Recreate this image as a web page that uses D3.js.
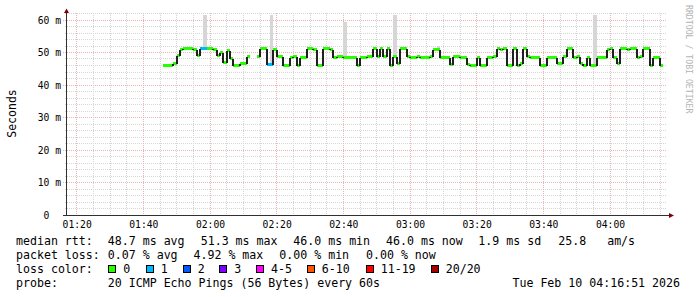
<!DOCTYPE html>
<html><head><meta charset="utf-8">
<script src="https://cdn.jsdelivr.net/npm/d3@7/dist/d3.min.js"></script>
<style>
html,body{margin:0;padding:0;background:#fff;}
svg text{font-family:"DejaVu Sans Mono","Liberation Mono",monospace;white-space:pre;}
</style></head><body>
<svg id="chart" width="697" height="297"></svg>
<script>
// ---------------- data ----------------
const windowStart = "2026-02-10 01:16:51";
const windowEnd   = "2026-02-10 04:16:51";
const seriesStart = "2026-02-10 01:46:00";
const stepSeconds = 60;

// median RTT per minute (ms), null = no data
const medianRtt = [
  45.9,45.9,45.9,46.5,49.0,50.8,51.1,51.1,51.1,50.8,
  49.0,51.1,51.1,51.1,51.1,50.8,49.0,50.0,47.0,50.6,
  48.0,45.9,45.9,46.5,46.5,48.7,null,null,48.7,51.1,
  51.1,46.3,46.3,50.8,48.7,48.7,45.9,45.9,48.4,48.7,
  45.9,48.4,48.4,51.1,51.1,50.8,45.9,45.9,51.1,51.1,
  50.8,48.4,48.7,48.7,48.4,48.4,48.4,48.4,45.9,48.4,
  48.4,48.7,48.7,51.1,48.7,51.1,48.7,51.1,45.9,48.7,
  46.5,51.1,51.1,48.7,48.4,48.4,48.7,48.4,48.4,48.4,
  48.7,50.8,50.8,48.4,48.4,48.4,46.3,48.7,48.7,48.4,
  48.4,46.3,45.9,45.9,48.4,45.9,45.9,48.4,48.4,48.7,
  51.1,50.8,51.1,45.9,45.9,51.1,45.9,46.5,51.1,48.7,
  48.4,48.4,48.4,45.9,45.9,48.4,48.4,48.4,46.5,46.5,
  48.7,51.1,51.1,48.4,48.7,46.5,45.9,48.4,45.9,45.9,
  48.4,48.4,48.4,50.8,51.1,48.4,46.5,51.1,51.1,50.8,
  51.1,51.1,48.4,48.7,51.1,51.1,45.9,48.4,48.4,45.9
];
// lost pings (of 20) per minute
const lossPings = [
  0,0,0,0,0,0,0,0,0,0,
  0,1,1,0,0,0,0,0,0,0,
  0,0,0,0,0,0,0,0,0,0,
  0,1,1,0,0,0,0,0,0,0,
  0,0,0,0,0,0,0,0,0,0,
  0,0,0,0,0,0,0,0,0,0,
  0,0,0,0,0,0,0,0,0,0,
  0,0,0,0,0,0,0,0,0,0,
  0,0,0,0,0,0,0,0,0,0,
  0,0,0,0,0,0,0,0,0,0,
  0,0,0,0,0,0,0,0,0,0,
  0,0,0,0,0,0,0,0,0,0,
  0,0,0,0,0,0,0,0,0,0,
  0,0,0,0,0,0,0,0,0,0,
  0,0,0,0,0,0,0,0,0,0
];
// smoke (ping spread) where visible
const smokeTimes = ["01:58","02:18","02:40","02:55","03:08","03:42","03:55"];
const smokeLow   = [51.1, 46.3, 48.4, 48.7, 50.8, 48.4, 45.9];
const smokeHigh  = [61.5, 61.5, 59.5, 61.5, 52.0, 49.0, 61.5];

const yTickValues = [0,10,20,30,40,50,60];
const yUnit = "m";
const lossLabels = ["0","1","2","3","4-5","6-10","11-19","20/20"];
const lossColors = ["#26ff00","#00b8ff","#0059ff","#7e00ff","#ff00ff","#ff5500","#ff0000","#a10000"];
const rttLabel = "median rtt:";
const rttStats = ["48.7 ms avg","51.3 ms max","46.0 ms min","46.0 ms now","1.9 ms sd","25.8   am/s"];
const lossLabel = "packet loss:";
const lossStats = ["0.07 % avg","4.92 % max","0.00 % min","0.00 % now"];
const colorLabel = "loss color:";
const probeLabel = "probe:";
const probeText = "20 ICMP Echo Pings (56 Bytes) every 60s";
const stampText = "Tue Feb 10 04:16:51 2026";
const yTitle = "Seconds";
const watermark = "RRDTOOL / TOBI OETIKER";

// ---------------- drawing ----------------
const parse = d3.timeParse("%Y-%m-%d %H:%M:%S");
const t0 = parse(windowStart), t1 = parse(windowEnd), s0 = parse(seriesStart);
const svg = d3.select("#chart");
const L = 66.2, R = 666.2, B = 215, T = 13;
const x = d3.scaleTime().domain([t0, t1]).range([L, R]);
const y = d3.scaleLinear().domain([0, 60]).range([215, 20]);
const yMax = y.invert(T);
const px = v => Math.floor(v) + 0.5;

const pts = medianRtt.map((v, i) => ({
  t: new Date(s0.getTime() + i * stepSeconds * 1000),
  t2: new Date(s0.getTime() + (i + 1) * stepSeconds * 1000),
  v, loss: lossPings[i]
}));

// grid
const grid = svg.append("g").attr("shape-rendering", "crispEdges");
const minorC = "#d6d6d6", majorC = "#ebb4b4";
const vt = d3.timeMinute.every(5).range(t0, t1);
vt.filter(t => t.getMinutes() % 20 !== 0).forEach(t => {
  grid.append("line").attr("x1", px(x(t))).attr("x2", px(x(t))).attr("y1", T).attr("y2", B)
    .attr("stroke", minorC).attr("stroke-dasharray", "1,1");
});
const hv = d3.range(2, yMax, 2);
hv.filter(v => v % 10 !== 0).forEach(v => {
  grid.append("line").attr("x1", 65).attr("x2", R).attr("y1", px(y(v))).attr("y2", px(y(v)))
    .attr("stroke", minorC).attr("stroke-dasharray", "1,1");
});
vt.filter(t => t.getMinutes() % 20 === 0).forEach(t => {
  grid.append("line").attr("x1", px(x(t))).attr("x2", px(x(t))).attr("y1", T).attr("y2", B + 2)
    .attr("stroke", majorC).attr("stroke-dasharray", "1,1");
});
hv.filter(v => v % 10 === 0).forEach(v => {
  grid.append("line").attr("x1", 63).attr("x2", R).attr("y1", px(y(v))).attr("y2", px(y(v)))
    .attr("stroke", majorC).attr("stroke-dasharray", "1,1");
});

// smoke
const tp = d3.timeParse("%Y-%m-%d %H:%M");
svg.append("g").attr("shape-rendering", "crispEdges").selectAll("rect").data(smokeTimes.map((s, i) => ({
  t: tp("2026-02-10 " + s), lo: smokeLow[i], hi: smokeHigh[i]
}))).join("rect")
  .attr("x", d => Math.round(x(d.t)))
  .attr("width", d => Math.round(x(new Date(d.t.getTime() + stepSeconds * 1000))) - Math.round(x(d.t)))
  .attr("y", d => Math.round(y(d.hi))).attr("height", d => Math.round(y(d.lo)) - Math.round(y(d.hi)))
  .attr("fill", "#d6d6d6");

// axes lines
svg.append("line").attr("x1", 62.5).attr("x2", 670).attr("y1", B + 0.5).attr("y2", B + 0.5)
  .attr("stroke", "#303030").attr("shape-rendering", "crispEdges");
svg.append("line").attr("x1", 66.5).attr("x2", 66.5).attr("y1", B + 1).attr("y2", 11)
  .attr("stroke", "#303030").attr("shape-rendering", "crispEdges");
svg.append("path").attr("d", "M64,13L69,13L66.5,8.5Z").attr("fill", "#7f0000");
svg.append("path").attr("d", "M669,213L669,218L674,215.5Z").attr("fill", "#7f0000");

// median: colored horizontals, then black verticals on top
const lossIdx = n => n === 0 ? 0 : n === 1 ? 1 : n === 2 ? 2 : n === 3 ? 3 : n <= 5 ? 4 : n <= 10 ? 5 : n <= 19 ? 6 : 7;
svg.append("g").attr("shape-rendering", "crispEdges").selectAll("line").data(pts.filter(d => d.v != null)).join("line")
  .attr("x1", d => Math.round(x(d.t))).attr("x2", d => Math.round(x(d.t2)))
  .attr("y1", d => px(y(d.v))).attr("y2", d => px(y(d.v)))
  .attr("stroke", d => lossColors[lossIdx(d.loss)]).attr("stroke-width", 3);
const vert = [];
for (let i = 1; i < pts.length; i++) {
  if (pts[i].v != null && pts[i - 1].v != null && pts[i].v !== pts[i - 1].v)
    vert.push({ t: pts[i].t, a: pts[i - 1].v, b: pts[i].v });
}
svg.append("g").attr("shape-rendering", "crispEdges").selectAll("line").data(vert).join("line")
  .attr("x1", d => Math.round(x(d.t))).attr("x2", d => Math.round(x(d.t)))
  .attr("y1", d => px(y(d.a))).attr("y2", d => px(y(d.b)))
  .attr("stroke", "#202020").attr("stroke-width", 2);

// tick labels via d3 axes
const xa = svg.append("g").attr("transform", `translate(0,${B})`)
  .call(d3.axisBottom(x).ticks(d3.timeMinute.every(20)).tickFormat(d3.timeFormat("%H:%M")).tickSize(0).tickPadding(0));
xa.select(".domain").remove();
xa.selectAll("text").attr("dy", null).attr("y", 13).attr("font-size", "9.7px")
  .attr("font-family", "DejaVu Sans Mono").attr("fill", "#000");
const ya = svg.append("g").attr("transform", `translate(61,0)`)
  .call(d3.axisLeft(y).tickValues(yTickValues).tickFormat(d => d === 0 ? "0  " : d + " " + yUnit).tickSize(0).tickPadding(0));
ya.select(".domain").remove();
ya.selectAll("text").attr("dy", "0.35em").attr("font-size", "9.7px")
  .attr("font-family", "DejaVu Sans Mono").attr("fill", "#000");

// titles
svg.append("text").attr("transform", "translate(15.5,113.5) rotate(-90)")
  .attr("text-anchor", "middle").attr("font-size", "11.5px").text(yTitle);
svg.append("text").attr("transform", "translate(686,5) rotate(90)")
  .attr("font-size", "8.2px").attr("fill", "#b4b4b4").text(watermark);

// legend
const fs = "11.6px";
const rows = [245, 258.8, 272.7, 286.5];
const lx = 16;
const addT = (xx, yy, s, anchor) => svg.append("text").attr("x", xx).attr("y", yy)
  .attr("font-size", fs).attr("text-anchor", anchor || "start").text(s);
addT(lx, rows[0], rttLabel);
const rttX = [107.8, 200.7, 293.3, 386, 478.3, 558.3];
rttStats.forEach((s, i) => addT(rttX[i], rows[0], s));
addT(lx, rows[1], lossLabel);
const lossX = [107.8, 193.5, 279.3, 366];
lossStats.forEach((s, i) => addT(lossX[i], rows[1], s));
addT(lx, rows[2], colorLabel);
const boxX = [108.3, 145.7, 182.7, 219.3, 256, 306.7, 365.7, 430.7];
lossLabels.forEach((s, i) => {
  svg.append("rect").attr("x", Math.round(boxX[i]) + 0.5).attr("y", 265.5).attr("width", 7).attr("height", 7)
    .attr("fill", lossColors[i]).attr("stroke", "#000").attr("stroke-width", 1);
  addT(boxX[i] + 15, rows[2], s);
});
addT(lx, rows[3], probeLabel);
addT(107.8, rows[3], probeText);
addT(680, rows[3], stampText, "end");
</script>
</body></html>
